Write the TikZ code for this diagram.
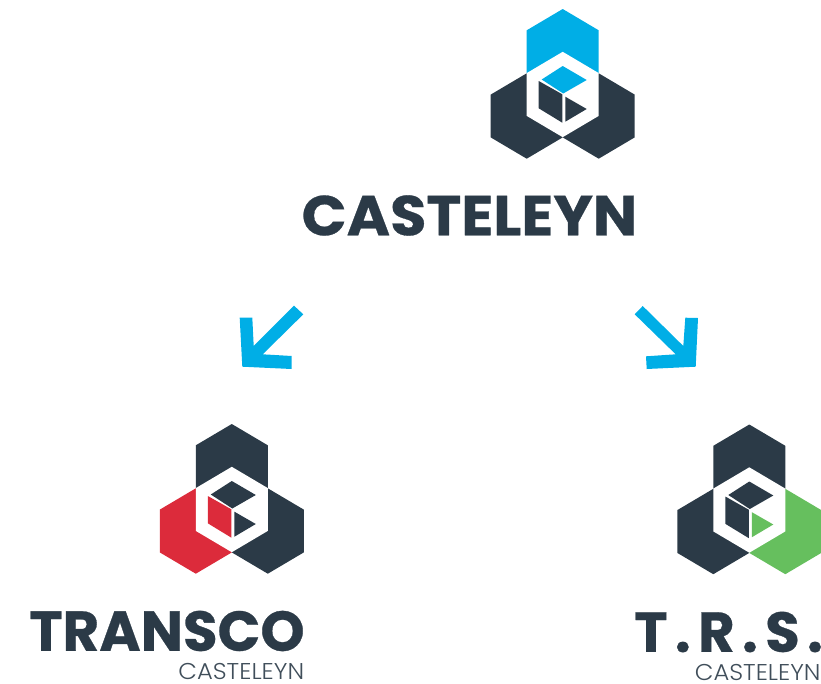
\documentclass[tikz,border=0pt]{standalone}
\usepackage{fontspec}
\newfontfamily\brandfont{Poppins}[UprightFont=*-Bold,FakeBold=0.5]
\newfontfamily\widefont{Poppins}[UprightFont=*-Bold,FakeBold=0.5,FakeStretch=1.05]
\newfontfamily\trsfont{Poppins}[UprightFont=*-Bold,FakeBold=0.5,LetterSpace=13]
\newfontfamily\subfont{Poppins}[UprightFont=*-Light,FakeStretch=1.06]
\definecolor{brandblue}{HTML}{00AEE6}
\definecolor{branddark}{HTML}{2B3A47}
\definecolor{brandred}{HTML}{DC2B3B}
\definecolor{brandgreen}{HTML}{66BF5E}
\tikzset{
  brandname/.style={inner sep=0pt,text=branddark,font=\brandfont\fontsize{32}{32}\selectfont},
  subname/.style={inner sep=0pt,text=branddark!90,font=\subfont\fontsize{13}{13}\selectfont},
  bluearrow/.style={fill=brandblue}
}
% hexagon of the mark: centre x, centre y, colour
\newcommand{\hexcell}[3]{
  \fill[#3] (#1,#2) ++(0,-42.7) -- ++(36,21.3) -- ++(0,42.8) -- ++(-36,21.3) -- ++(-36,-21.3) -- ++(0,-42.8) -- cycle;
}
% mark: centre x, centre y, top colour, left colour, right colour
\newcommand{\brandmark}[5]{
  \begin{scope}[shift={(#1,#2)}]
  \hexcell{0}{-42.8}{#3}
  \hexcell{-36}{21.5}{#4}
  \hexcell{36}{21.5}{#5}
  \hexcell{0}{0}{white}
  \fill[#3] (0,-28.5) -- (24,-14.5) -- (0.5,-1) -- (-21,-15) -- cycle;
  \fill[#4] (-24,-13.5) -- (-0.4,-0.2) -- (-0.4,28.2) -- (-24,13.8) -- cycle;
  \fill[#5] (2.6,2.2) -- (24,14.5) -- (2.6,27.2) -- cycle;
  \end{scope}
}

\begin{document}
\begin{tikzpicture}[x=0.02cm,y=-0.02cm]
\useasboundingbox (0,0) rectangle (821,683);

\brandmark{562.7}{94.5}{brandblue}{branddark}{branddark}
\brandmark{231.8}{509.5}{branddark}{brandred}{branddark}
\brandmark{749.3}{510}{branddark}{branddark}{brandgreen}

% arrows
\fill[bluearrow] (294,305.7) -- (303.3,314.3) -- (262.7,354.3) -- (291.7,356) -- (291.7,369) -- (242.3,366.7) -- (239.7,317.7) -- (252.3,317.7) -- (253.7,346) -- cycle;
\fill[bluearrow] (642.7,306) -- (634.7,314.3) -- (675.7,354.3) -- (646,356.3) -- (646.7,369) -- (695.7,366.7) -- (698,318) -- (685.3,317.7) -- (683.3,346) -- cycle;

\node[brandname,font=\widefont\fontsize{32}{32}\selectfont] (casteleyn) at (469.5,215.5) {CASTELEYN};
\node[brandname] (transco) at (167,631) {TRANSCO};
\node[brandname,anchor=west,font=\trsfont\fontsize{32}{32}\selectfont] (trs) at (634,632) {T.R.S.};
\node[subname,anchor=east] (transcosub) at (304.5,671.5) {CASTELEYN};
\node[subname,anchor=west] (trssub) at (694.5,672) {CASTELEYN};
\end{tikzpicture}
\end{document}
